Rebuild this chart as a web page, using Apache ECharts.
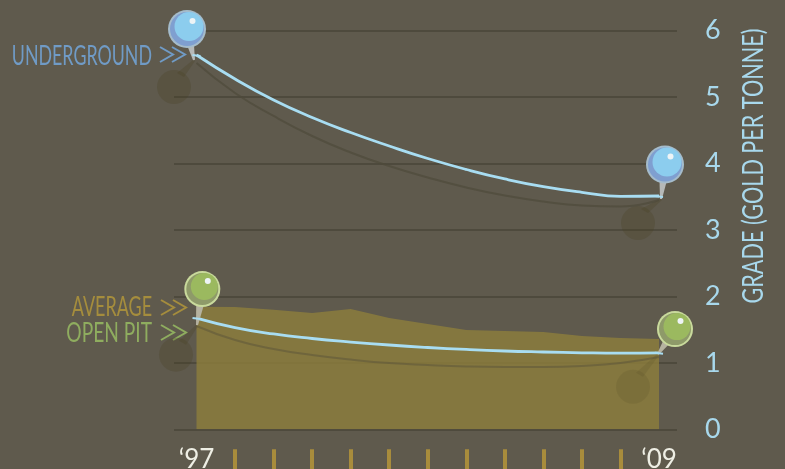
<!DOCTYPE html>
<html>
<head>
<meta charset="utf-8">
<style>
  html, body { margin: 0; padding: 0; background: #5f5a4d; overflow: hidden; }
  #chart { width: 785px; height: 469px; }
</style>
<script src="https://cdn.jsdelivr.net/npm/echarts@6/dist/echarts.min.js"></script>
</head>
<body>
<div id="chart"></div>
<script>
var years = [1997, 1998, 1999, 2000, 2001, 2002, 2003, 2004, 2005, 2006, 2007, 2008, 2009];
var yearLabels = { 1997: '\u201897', 2009: '\u201809' };
var tickYears = [1998, 1999, 2000, 2001, 2002, 2003, 2004, 2005, 2006, 2007, 2008];

var average = [1.844, 1.840, 1.799, 1.751, 1.810, 1.675, 1.585, 1.495, 1.479, 1.464, 1.404, 1.374, 1.359];
var underground = [5.631, 5.270, 4.954, 4.691, 4.465, 4.262, 4.074, 3.909, 3.766, 3.650, 3.565, 3.505, 3.510];
var undergroundShadow = [5.510, 5.060, 4.714, 4.413, 4.165, 3.961, 3.788, 3.638, 3.517, 3.427, 3.367, 3.352, 3.450];
var openPit = [1.674, 1.531, 1.434, 1.366, 1.313, 1.268, 1.231, 1.201, 1.178, 1.163, 1.151, 1.145, 1.151];
var openPitShadow = [1.554, 1.343, 1.208, 1.118, 1.050, 0.997, 0.967, 0.945, 0.937, 0.937, 0.952, 0.997, 1.088];

function pairs(values) {
  return values.map(function (v, i) { return [years[i], v]; });
}

var blueHead = { ring: '#a5bccb', dark: '#7f9fd0', light: '#8ccdee', stick: '#b6b9b8' };
var greenHead = { ring: '#c9da9c', dark: '#8e9a69', light: '#9bb95f', stick: '#b5b2a0' };

// pins sit on the ends of the two grade lines, offsets are in pixels from that point
var pinPoints = [
  [1997, underground[0]],
  [2009, underground[12]],
  [1997, openPit[0]],
  [2009, openPit[12]]
];
var pinLooks = [
  { c: blueHead, head: [-9.5, -26], tip: [-2.5, 5], shadow: [-22.5, 32], r: 19, alpha: 0.25 },
  { c: blueHead, head: [6, -31.5], tip: [2, 3], shadow: [-21, 27], r: 19, alpha: 0.25 },
  { c: greenHead, head: [5.8, -29], tip: [0.5, 7], shadow: [-20.5, 36.6], r: 18, alpha: 0.25 },
  { c: greenHead, head: [16, -23.7], tip: [-1, 1.5], shadow: [-26, 34], r: 18, alpha: 0.13 }
];

function renderShadow(params, api) {
  var p = api.coord([api.value(0), api.value(1)]);
  var look = pinLooks[params.dataIndex];
  var fill = 'rgba(72,62,32,' + look.alpha + ')';
  var sx = p[0] + look.shadow[0], sy = p[1] + look.shadow[1];
  var tx = p[0] + look.tip[0], ty = p[1] + look.tip[1];
  return {
    type: 'group',
    children: [
      { type: 'circle', shape: { cx: sx, cy: sy, r: 17 }, style: { fill: fill } },
      { type: 'polygon', shape: { points: [[tx - 1, ty], [tx + 1, ty + 1], [sx + 10, sy - 10], [sx + 3, sy - 14]] }, style: { fill: fill } }
    ]
  };
}

function renderPin(params, api) {
  var p = api.coord([api.value(0), api.value(1)]);
  var look = pinLooks[params.dataIndex];
  var hx = p[0] + look.head[0], hy = p[1] + look.head[1];
  var tx = p[0] + look.tip[0], ty = p[1] + look.tip[1];
  var dx = hx - tx, dy = hy - ty;
  var len = Math.sqrt(dx * dx + dy * dy);
  var nx = -dy / len, ny = dx / len;
  var r = look.r;
  return {
    type: 'group',
    children: [
      { type: 'polygon', shape: { points: [
        [tx + nx, ty + ny], [tx - nx, ty - ny],
        [tx + dx * 0.6 - nx * 4, ty + dy * 0.6 - ny * 4],
        [tx + dx * 0.6 + nx * 4, ty + dy * 0.6 + ny * 4]
      ] }, style: { fill: look.c.stick } },
      { type: 'line', shape: { x1: p[0] - 4, y1: p[1], x2: p[0] + 4, y2: p[1] + 1 }, style: { stroke: '#a8ddf2', lineWidth: 2 } },
      { type: 'circle', shape: { cx: hx, cy: hy, r: r }, style: { fill: look.c.ring } },
      { type: 'circle', shape: { cx: hx, cy: hy, r: r - 2 }, style: { fill: look.c.dark } },
      { type: 'circle', shape: { cx: hx + 2, cy: hy - 2.5, r: r - 4.5 }, style: { fill: look.c.light } },
      { type: 'circle', shape: { cx: hx + 5.5, cy: hy - 8, r: 3 }, style: { fill: '#eef4f6' } }
    ]
  };
}

function chevrons(x, y, color) {
  return [0, 12].map(function (shift) {
    return {
      type: 'polyline',
      shape: { points: [[x + shift, y], [x + shift + 13, y + 7.5], [x + shift, y + 15]] },
      style: { stroke: color, lineWidth: 2, fill: null }
    };
  });
}

function narrowText(text, right, y, color, sx) {
  return {
    type: 'text',
    x: right,
    y: y,
    scaleX: sx,
    style: {
      text: text,
      fill: color,
      font: '400 27px Lato',
      textAlign: 'right',
      textVerticalAlign: 'middle'
    }
  };
}

var labelBlue = '#709bc6', labelGold = '#a58d3d', labelGreen = '#8fad5f';

var option = {
  backgroundColor: '#5f5a4d',
  animation: false,
  grid: { left: 174, right: 108, top: 30.5, bottom: 39.7, outerBoundsMode: 'none' },
  xAxis: {
    type: 'value',
    min: 1996.416,
    max: 2009.467,
    offset: 20,
    axisLine: { show: false, onZero: false },
    splitLine: { show: false },
    axisTick: { show: true, inside: false, length: 20, customValues: tickYears, lineStyle: { color: '#a88c3c', width: 4 } },
    axisLabel: {
      show: true,
      customValues: [1997, 2009],
      formatter: function (v) { return yearLabels[v]; },
      margin: -3,
      color: '#eeeee4',
      fontFamily: 'Lato',
      fontWeight: 400,
      fontSize: 26,
      hideOverlap: false
    }
  },
  yAxis: {
    type: 'value',
    position: 'right',
    min: 0,
    max: 6,
    interval: 1,
    axisLine: { show: false },
    axisTick: { show: false },
    splitLine: { show: true, lineStyle: { color: '#4e4a3d', width: 2 } },
    axisLabel: {
      margin: 28,
      color: '#a8d8ec',
      fontFamily: 'Lato',
      fontWeight: 400,
      fontSize: 27
    }
  },
  graphic: [
    narrowText('UNDERGROUND', 152, 56, labelBlue, 0.66),
    narrowText('AVERAGE', 152, 307, labelGold, 0.665),
    narrowText('OPEN PIT', 152, 333, labelGreen, 0.71),
    {
      type: 'text',
      x: 754,
      y: 166,
      rotation: Math.PI / 2,
      scaleX: 0.745,
      style: {
        text: 'GRADE (GOLD PER TONNE)',
        fill: '#a8d8ec',
        font: '400 29px Lato',
        textAlign: 'center',
        textVerticalAlign: 'middle'
      }
    }
  ].concat(chevrons(160, 47, labelBlue), chevrons(161, 300, labelGold), chevrons(161, 325, labelGreen)),
  series: [
    {
      name: 'Average',
      type: 'line',
      z: 2,
      data: pairs(average),
      symbol: 'none',
      lineStyle: { width: 0 },
      areaStyle: { color: '#8c7e3c', opacity: 0.82, origin: 'start' }
    },
    {
      name: 'Pin shadows',
      type: 'custom',
      z: 3,
      data: pinPoints,
      renderItem: renderShadow
    },
    {
      name: 'Underground shadow',
      type: 'line',
      z: 3,
      smooth: true,
      data: pairs(undergroundShadow),
      symbol: 'none',
      lineStyle: { color: '#4f4a3a', width: 2, opacity: 0.7 }
    },
    {
      name: 'Open pit shadow',
      type: 'line',
      z: 3,
      smooth: true,
      data: pairs(openPitShadow),
      symbol: 'none',
      lineStyle: { color: '#4f4a3a', width: 2, opacity: 0.4 }
    },
    {
      name: 'Underground',
      type: 'line',
      z: 4,
      smooth: true,
      data: pairs(underground),
      symbol: 'none',
      lineStyle: { color: '#a8ddf2', width: 2.8 }
    },
    {
      name: 'Open pit',
      type: 'line',
      z: 4,
      smooth: true,
      data: pairs(openPit),
      symbol: 'none',
      lineStyle: { color: '#a8ddf2', width: 2.8 }
    },
    {
      name: 'Pins',
      type: 'custom',
      z: 5,
      data: pinPoints,
      renderItem: renderPin
    }
  ]
};

var chart = echarts.init(document.getElementById('chart'));
chart.setOption(option);
</script>
</body>
</html>
